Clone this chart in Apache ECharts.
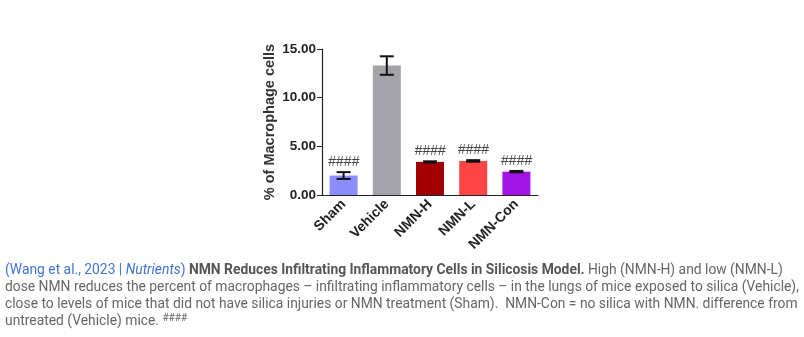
<!DOCTYPE html>
<html>
<head>
<meta charset="utf-8">
<script src="https://cdn.jsdelivr.net/npm/echarts@6/dist/echarts.min.js"></script>
<style>
  html, body { margin: 0; padding: 0; background: #fff; }
  #chart { width: 804px; height: 337px; }
</style>
</head>
<body>
<div id="chart"></div>
<script>
// Macrophage percentages per treatment group (mean and SEM)
const categories = ['Sham', 'Vehicle', 'NMN-H', 'NMN-L', 'NMN-Con'];
const means = [2.0, 13.3, 3.4, 3.5, 2.4];
const errors = [0.35, 0.95, 0.06, 0.08, 0.07];
const sigLabels = ['####', '', '####', '####', '####'];
const barColors = ['#8c8cff', '#a3a3a9', '#a10000', '#ff4444', '#a414e6'];
const yTicks = [0, 5, 10, 15];

const chart = echarts.init(document.getElementById('chart'));

const axisFont = 'Liberation Sans, Arial, sans-serif';
const capFont = 'Roboto, sans-serif';
const capSize = 13.85;
const capLine = 17;

const errorData = categories.map((c, i) => [i, means[i], errors[i]]);

chart.setOption({
  animation: false,
  grid: { left: 322, top: 49, width: 216, bottom: 142, containLabel: false },
  xAxis: {
    type: 'category',
    data: categories,
    axisLine: { lineStyle: { color: '#222', width: 1.2 } },
    axisTick: { alignWithLabel: true, length: 4, lineStyle: { color: '#222' } },
    axisLabel: {
      rotate: 45, interval: 0, margin: 7,
      color: '#222', fontWeight: 'bold', fontSize: 14, fontFamily: axisFont
    }
  },
  yAxis: {
    type: 'value',
    min: yTicks[0], max: yTicks[yTicks.length - 1], interval: 5,
    name: '% of Macrophage cells',
    nameLocation: 'middle', nameRotate: 90, nameGap: 45,
    nameTextStyle: { color: '#333', fontWeight: 'bold', fontSize: 14.5, fontFamily: axisFont },
    axisLine: { show: true, lineStyle: { color: '#222', width: 1.2 } },
    axisTick: { show: true, length: 5, lineStyle: { color: '#222' } },
    splitLine: { show: false },
    axisLabel: {
      margin: 6, color: '#222', fontWeight: 'bold', fontSize: 13.5, fontFamily: axisFont,
      formatter: v => v.toFixed(2)
    }
  },
  series: [
    {
      type: 'bar',
      data: means.map((v, i) => ({ value: v, itemStyle: { color: barColors[i] } })),
      barWidth: 28
    },
    {
      type: 'custom',
      data: errorData,
      z: 10,
      renderItem: (params, api) => {
        const x = api.value(0), m = api.value(1), e = api.value(2);
        const top = api.coord([x, m + e]);
        const bot = api.coord([x, m - e]);
        const cap = 7;
        const lbl = sigLabels[params.dataIndex];
        const style = { stroke: '#111', lineWidth: 2 };
        const children = [
          { type: 'line', shape: { x1: top[0], y1: top[1], x2: bot[0], y2: bot[1] }, style },
          { type: 'line', shape: { x1: top[0] - cap, y1: top[1], x2: top[0] + cap, y2: top[1] }, style },
          { type: 'line', shape: { x1: bot[0] - cap, y1: bot[1], x2: bot[0] + cap, y2: bot[1] }, style }
        ];
        if (lbl) {
          children.push({
            type: 'text',
            style: {
              text: lbl, x: top[0], y: top[1] - 3,
              align: 'center', verticalAlign: 'bottom',
              fill: '#444', fontSize: 14, fontStyle: 'italic', fontFamily: axisFont
            }
          });
        }
        return { type: 'group', children };
      }
    }
  ],
  graphic: [
    {
      type: 'text', left: 5, top: 262,
      style: {
        fontFamily: capFont, fontSize: capSize, lineHeight: capLine, fill: '#666',
        text: [
          '{link|(Wang et al., 2023 | }{linki|Nutrients}{link|)} {b|NMN Reduces Infiltrating Inflammatory Cells in Silicosis Model.} High (NMN-H) and low (NMN-L)',
          'dose NMN reduces the percent of macrophages – infiltrating inflammatory cells – in the lungs of mice exposed to silica (Vehicle),',
          'close to levels of mice that did not have silica injuries or NMN treatment (Sham).  NMN-Con = no silica with NMN. difference from',
          'untreated (Vehicle) mice. {sup|####}'
        ].join('\n'),
        rich: {
          link: { fill: '#3f73d4', fontFamily: capFont, fontSize: capSize, lineHeight: capLine },
          linki: { fill: '#3f73d4', fontStyle: 'italic', fontFamily: capFont, fontSize: capSize, lineHeight: capLine },
          b: { fill: '#555', fontWeight: 'bold', fontFamily: capFont, fontSize: capSize, lineHeight: capLine },
          sup: { fill: '#666', fontSize: 10, verticalAlign: 'top', padding: [0, 0, 8, 0], fontFamily: capFont, lineHeight: capLine }
        }
      }
    }
  ]
});
</script>
</body>
</html>
